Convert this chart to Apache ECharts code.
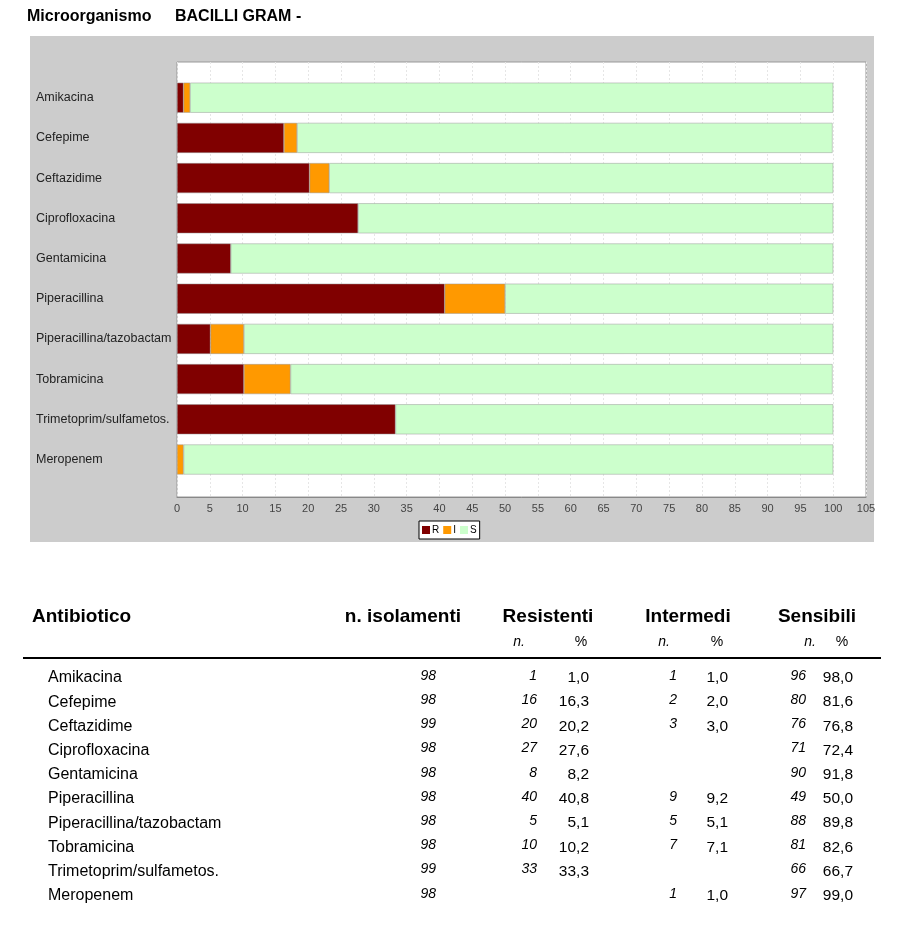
<!DOCTYPE html>
<html>
<head>
<meta charset="utf-8">
<script src="https://cdn.jsdelivr.net/npm/echarts@6/dist/echarts.min.js"></script>
<style>html,body{margin:0;padding:0;background:#fff;}#c{width:900px;height:940px;}</style>
</head>
<body>
<div id="c"></div>
<script>
var antibiotics = ['Amikacina','Cefepime','Ceftazidime','Ciprofloxacina','Gentamicina','Piperacillina','Piperacillina/tazobactam','Tobramicina','Trimetoprim/sulfametos.','Meropenem'];
var isolates = [98,98,99,98,98,98,98,98,99,98];
var resN   = [1,16,20,27,8,40,5,10,33,null];
var resPct = [1.0,16.3,20.2,27.6,8.2,40.8,5.1,10.2,33.3,null];
var intN   = [1,2,3,null,null,9,5,7,null,1];
var intPct = [1.0,2.0,3.0,null,null,9.2,5.1,7.1,null,1.0];
var senN   = [96,80,76,71,90,49,88,81,66,97];
var senPct = [98.0,81.6,76.8,72.4,91.8,50.0,89.8,82.6,66.7,99.0];
var xTicks = {min:0, max:105, interval:5};
var legendNames = ['R','I','S'];

var FONT = '"Liberation Sans", Arial, sans-serif';
function fmt(v){ return v == null ? '' : v.toFixed(1).replace('.', ','); }

var graphics = [
  {type:'rect', z:-100, shape:{x:30,y:36,width:844,height:506}, style:{fill:'#cccccc'}},
  {type:'text', style:{x:27,y:17,text:'Microorganismo',font:'bold 16px '+FONT,fill:'#000',textVerticalAlign:'middle'}},
  {type:'text', style:{x:175,y:17,text:'BACILLI GRAM -',font:'bold 16px '+FONT,fill:'#000',textVerticalAlign:'middle'}},
  {type:'text', style:{x:32,y:617,text:'Antibiotico',font:'bold 19px '+FONT,fill:'#000',textVerticalAlign:'middle'}},
  {type:'text', style:{x:461,y:617,text:'n. isolamenti',font:'bold 19px '+FONT,fill:'#000',textAlign:'right',textVerticalAlign:'middle'}},
  {type:'text', style:{x:548,y:617,text:'Resistenti',font:'bold 19px '+FONT,fill:'#000',textAlign:'center',textVerticalAlign:'middle'}},
  {type:'text', style:{x:688,y:617,text:'Intermedi',font:'bold 19px '+FONT,fill:'#000',textAlign:'center',textVerticalAlign:'middle'}},
  {type:'text', style:{x:817,y:617,text:'Sensibili',font:'bold 19px '+FONT,fill:'#000',textAlign:'center',textVerticalAlign:'middle'}},
  {type:'text', style:{x:519,y:642,text:'n.',font:'italic 14px '+FONT,fill:'#000',textAlign:'center',textVerticalAlign:'middle'}},
  {type:'text', style:{x:581,y:642,text:'%',font:'14px '+FONT,fill:'#000',textAlign:'center',textVerticalAlign:'middle'}},
  {type:'text', style:{x:664,y:642,text:'n.',font:'italic 14px '+FONT,fill:'#000',textAlign:'center',textVerticalAlign:'middle'}},
  {type:'text', style:{x:717,y:642,text:'%',font:'14px '+FONT,fill:'#000',textAlign:'center',textVerticalAlign:'middle'}},
  {type:'text', style:{x:810,y:642,text:'n.',font:'italic 14px '+FONT,fill:'#000',textAlign:'center',textVerticalAlign:'middle'}},
  {type:'text', style:{x:842,y:642,text:'%',font:'14px '+FONT,fill:'#000',textAlign:'center',textVerticalAlign:'middle'}},
  {type:'line', shape:{x1:23,y1:658,x2:881,y2:658}, style:{stroke:'#000',lineWidth:2}}
];
var rowY0 = 678, rowStep = 24.2;
antibiotics.forEach(function(name, i){
  var y = rowY0 + i*rowStep;
  graphics.push({type:'text', style:{x:48,y:y,text:name,font:'16px '+FONT,fill:'#000',textVerticalAlign:'middle'}});
  graphics.push({type:'text', style:{x:436,y:y-2,text:String(isolates[i]),font:'italic 14px '+FONT,fill:'#000',textAlign:'right',textVerticalAlign:'middle'}});
  if (resN[i] != null) graphics.push({type:'text', style:{x:537,y:y-2,text:String(resN[i]),font:'italic 14px '+FONT,fill:'#000',textAlign:'right',textVerticalAlign:'middle'}});
  if (resPct[i] != null) graphics.push({type:'text', style:{x:589,y:y,text:fmt(resPct[i]),font:'15.5px '+FONT,fill:'#000',textAlign:'right',textVerticalAlign:'middle'}});
  if (intN[i] != null) graphics.push({type:'text', style:{x:677,y:y-2,text:String(intN[i]),font:'italic 14px '+FONT,fill:'#000',textAlign:'right',textVerticalAlign:'middle'}});
  if (intPct[i] != null) graphics.push({type:'text', style:{x:728,y:y,text:fmt(intPct[i]),font:'15.5px '+FONT,fill:'#000',textAlign:'right',textVerticalAlign:'middle'}});
  if (senN[i] != null) graphics.push({type:'text', style:{x:806,y:y-2,text:String(senN[i]),font:'italic 14px '+FONT,fill:'#000',textAlign:'right',textVerticalAlign:'middle'}});
  if (senPct[i] != null) graphics.push({type:'text', style:{x:853,y:y,text:fmt(senPct[i]),font:'15.5px '+FONT,fill:'#000',textAlign:'right',textVerticalAlign:'middle'}});
});

var chart = echarts.init(document.getElementById('c'));
var colors = ['#800000','#ff9900','#ccffcc'];
var seriesData = [resPct, intPct, senPct];
chart.setOption({
  animation:false,
  backgroundColor:'#ffffff',
  textStyle:{fontFamily:FONT},
  graphic: graphics,
  legend:{
    data: legendNames, left:419, top:521, orient:'horizontal',
    itemWidth:8, itemHeight:8, itemGap:4, padding:[4,3,4,3],
    backgroundColor:'#fff', borderColor:'#000', borderWidth:1, borderRadius:0,
    icon:'rect', itemStyle:{borderWidth:0},
    textStyle:{fontSize:10, color:'#000', padding:[0,0,0,-3]}
  },
  grid:[
    {left:177, right:34, top:62, bottom:443, show:true, backgroundColor:'#ffffff', borderColor:'#999999', borderWidth:1, z:0},
    {left:177, right:34, top:77.6, bottom:460.4}
  ],
  xAxis:[
    {gridIndex:0, type:'value', min:xTicks.min, max:xTicks.max, interval:xTicks.interval,
     axisLine:{show:true, lineStyle:{color:'#888'}}, axisTick:{show:false},
     axisLabel:{color:'#444', fontSize:11, margin:6},
     splitLine:{show:true, lineStyle:{color:'#e6e6e6', type:[2,2]}}},
    {gridIndex:1, type:'value', min:xTicks.min, max:xTicks.max, show:false, splitLine:{show:false}}
  ],
  yAxis:[
    {gridIndex:0, type:'value', min:0, max:1, show:false, splitLine:{show:false}},
    {gridIndex:1, type:'category', inverse:true, data:antibiotics,
     axisLine:{show:false}, axisTick:{show:false}, splitLine:{show:false},
     axisLabel:{align:'left', margin:141, color:'#222', fontSize:12.5}}
  ],
  series: legendNames.map(function(n, k){
    return {name:n, type:'bar', stack:'tot', xAxisIndex:1, yAxisIndex:1, barWidth:30,
      itemStyle:{color:colors[k], borderColor:'#999', borderWidth:0.5},
      data: seriesData[k]};
  })
});
</script>
</body>
</html>
